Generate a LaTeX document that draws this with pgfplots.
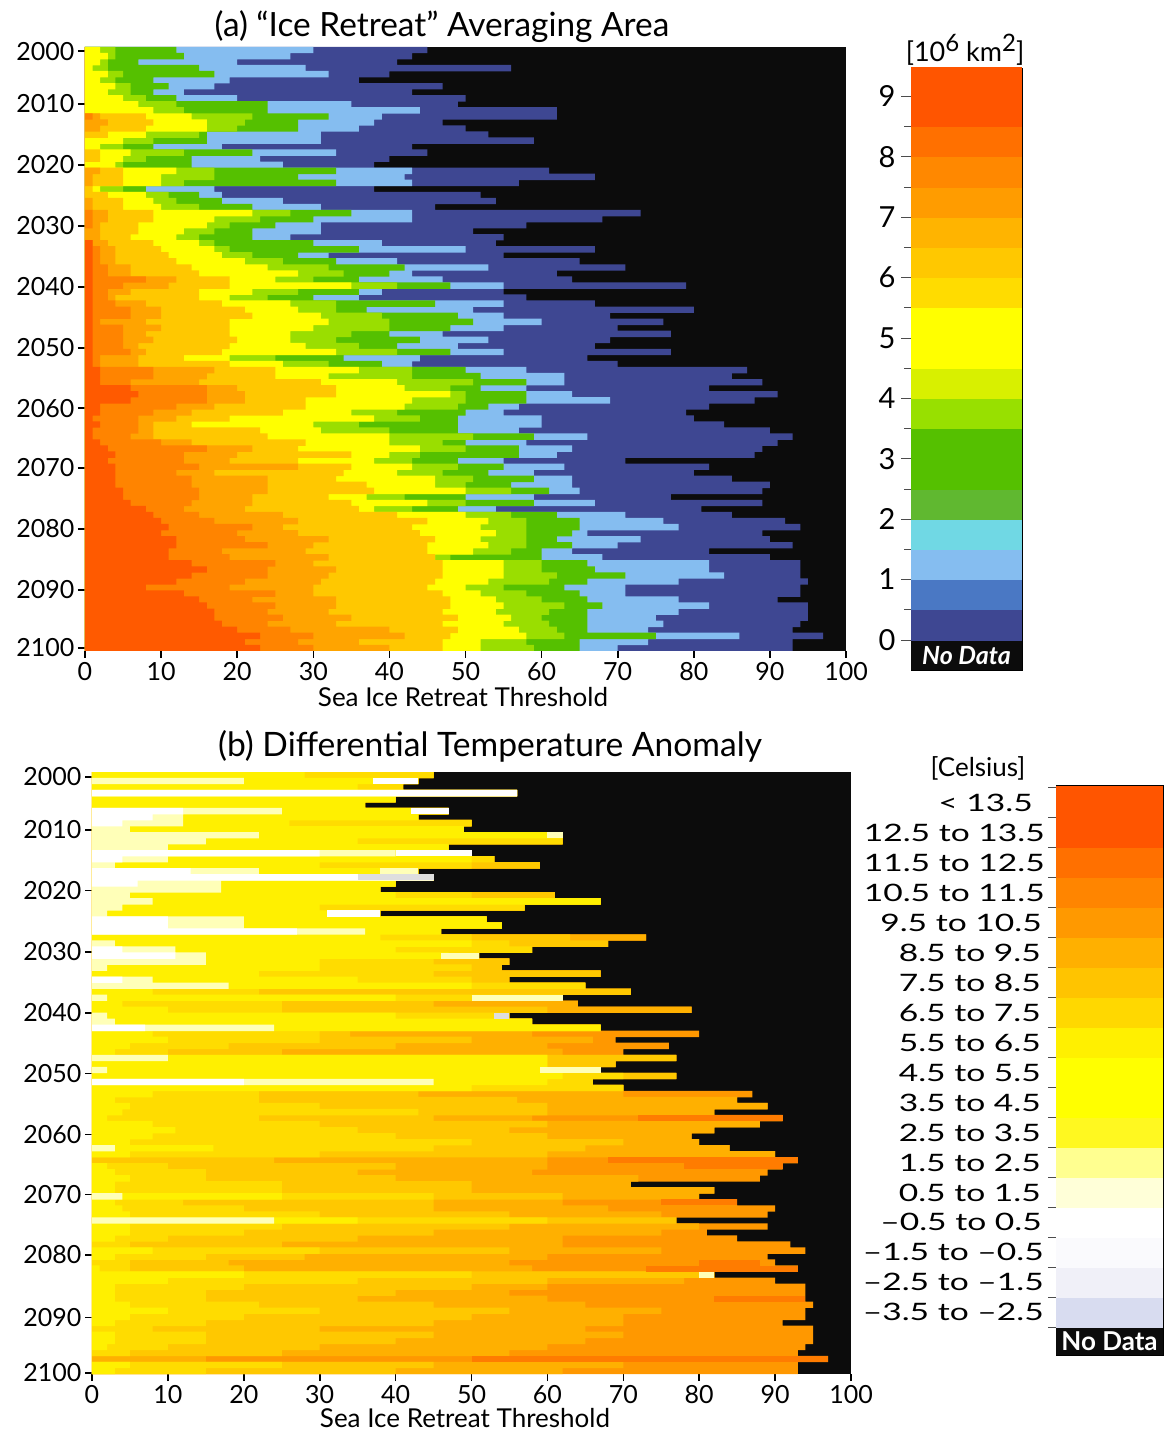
\documentclass[border=0pt]{standalone}
\usepackage{fontspec}
\usepackage{graphicx}
\usepackage{pgfplots}
\usepackage{pgfplotstable}
\pgfplotsset{compat=1.18}
\setmainfont{Lato}
\newcommand\fs[1]{\fontsize{#1}{#1}\selectfont}
% panel (a) colours
\definecolor{cr}{HTML}{FF5A00}\definecolor{co}{HTML}{FF8400}\definecolor{ca}{HTML}{FFA400}
\definecolor{cau}{HTML}{FFC800}\definecolor{cy}{HTML}{FFFF00}\definecolor{cyg}{HTML}{9ADE00}
\definecolor{cg}{HTML}{55C000}\definecolor{clb}{HTML}{85BDF0}\definecolor{cdb}{HTML}{3E4792}
\definecolor{nodata}{HTML}{0C0C0C}
% panel (b) colours
\definecolor{bD}{HTML}{FF7C00}\definecolor{bR}{HTML}{FF9800}\definecolor{bO}{HTML}{FFB000}\definecolor{bA}{HTML}{FFC800}
\definecolor{bG}{HTML}{FFDC00}\definecolor{bY}{HTML}{FFF000}\definecolor{bP}{HTML}{FFFFB8}
% colour-bar colours
\newcommand\dc[1]{\definecolor{h#1}{HTML}{#1}}
\dc{0C0C0C}\dc{3E4792}\dc{4A78C4}\dc{85BDF0}\dc{70D8E4}\dc{60B830}\dc{55C000}\dc{98E000}\dc{D8F000}\dc{FFFF00}
\dc{FFDC00}\dc{FFC800}\dc{FFB400}\dc{FF9C00}\dc{FF8800}\dc{FF7000}\dc{FF5500}\dc{D8DCF0}\dc{F0F0F8}\dc{FAFAFD}
\dc{FFFFFF}\dc{FFFFD8}\dc{FFFF90}\dc{FFF820}\dc{FFF000}\dc{FFD800}\dc{FFC400}\dc{FFB000}\dc{FF9900}\dc{FF8500}
\pgfplotstableread{
year r o a au y yg g lb E
2001 0 0 0 0 2 4 12 30 45
2002 0 0 0 0 3 4 13 27 43
2003 0 0 0 0 2 3 7 20 41
2004 0 0 0 0 1 3 15 29 56
2005 0 0 0 0 3 5 17 32 40
2006 0 0 0 0 2 4 9 19 36
2007 0 0 0 0 4 6 11 17 47
2008 0 0 0 0 3 6 9 13 43
2009 0 0 0 0 5 8 12 20 50
2010 0 0 0 0 7 12 24 35 49
2011 0 0 0 0 9 13 24 44 62
2012 0 1 2 8 14 22 32 39 62
2013 0 0 3 9 16 21 28 38 47
2014 0 0 2 8 16 20 28 36 50
2015 0 0 0 3 8 15 16 31 53
2016 0 0 0 0 5 9 16 31 59
2017 0 0 0 0 2 5 9 18 43
2018 0 0 0 2 6 13 22 33 45
2019 0 0 0 2 5 8 14 23 40
2020 0 0 0 0 4 5 14 26 38
2021 0 0 2 5 12 17 33 43 61
2022 0 0 1 5 10 17 28 42 67
2023 0 0 1 5 10 13 33 43 57
2024 0 0 0 1 2 5 8 17 38
2025 0 0 0 3 8 11 15 18 52
2026 0 0 1 5 9 12 18 26 54
2027 0 0 1 5 10 15 22 31 46
2028 0 1 3 9 22 27 35 43 73
2029 0 1 3 9 17 23 30 43 68
2030 0 1 2 7 16 19 25 31 58
2031 0 0 2 7 13 17 22 31 51
2032 0 0 2 6 12 15 22 27 55
2033 1 1 3 9 15 17 30 39 54
2034 1 2 4 10 17 19 36 50 67
2035 1 2 4 11 18 22 28 32 55
2036 1 2 4 12 21 26 33 41 65
2037 1 3 6 14 24 32 42 53 71
2038 1 3 6 15 28 34 40 43 62
2039 1 8 12 19 25 30 36 47 64
2040 1 5 11 19 35 41 48 55 79
2041 1 3 6 15 22 28 36 39 55
2042 1 3 4 15 19 24 30 36 58
2043 1 4 8 18 27 33 46 55 67
2044 1 6 10 21 28 33 37 51 80
2045 1 6 10 22 31 39 49 55 69
2046 1 2 8 19 32 40 51 60 76
2047 1 5 10 19 30 40 48 55 70
2048 1 5 8 19 27 35 40 47 77
2049 1 5 9 20 27 33 44 53 69
2050 1 5 7 19 29 36 41 49 67
2051 1 6 8 18 33 41 48 55 77
2052 1 2 7 13 19 25 34 44 66
2053 1 2 7 19 26 32 39 43 70
2054 2 9 17 25 36 43 50 58 87
2055 2 9 16 25 32 43 52 63 85
2056 2 6 15 31 41 51 58 63 89
2057 6 16 20 33 42 48 52 58 82
2058 7 16 21 33 48 50 58 64 91
2059 6 16 21 29 43 50 58 69 88
2060 2 12 17 29 42 49 53 57 82
2061 2 9 14 26 35 41 50 55 79
2062 1 7 12 19 38 44 49 60 80
2063 2 7 9 14 30 36 49 60 84
2064 1 7 9 23 31 40 49 57 90
2065 1 6 9 24 40 51 59 66 93
2066 2 10 14 29 40 47 50 58 91
2067 3 16 22 28 44 50 57 64 89
2068 4 13 20 35 40 44 57 62 88
2069 3 13 19 28 38 43 49 55 71
2070 4 15 28 35 43 49 55 63 82
2071 4 12 17 34 41 47 53 59 80
2072 4 14 24 33 46 51 59 64 85
2073 4 14 24 37 46 50 56 64 90
2074 5 15 24 38 50 56 61 65 89
2075 5 15 22 32 37 42 50 59 77
2076 6 14 22 35 45 50 59 67 89
2077 8 13 21 36 38 43 49 54 81
2078 9 15 26 41 50 56 62 71 85
2079 10 17 28 45 53 58 65 76 92
2080 11 22 26 43 52 58 65 78 94
2081 10 20 28 44 54 58 64 66 89
2082 12 21 32 46 52 58 62 73 90
2083 12 24 30 45 53 58 64 70 93
2084 11 18 29 45 51 56 60 64 82
2085 11 19 32 46 46 48 60 68 90
2086 14 25 30 47 55 60 66 82 94
2087 16 24 33 47 55 60 67 82 94
2088 14 24 32 47 55 62 71 84 94
2089 12 21 31 46 53 61 66 78 95
2090 8 19 30 45 50 55 63 71 94
2091 13 25 30 47 52 58 65 71 94
2092 15 22 33 48 54 60 66 78 91
2093 16 25 33 48 55 63 68 82 95
2094 17 24 32 47 54 61 66 78 95
2095 17 26 35 49 56 60 66 75 95
2096 18 24 33 47 55 61 66 76 94
2097 20 27 40 49 57 62 66 74 93
2098 23 30 42 48 58 63 75 86 97
2099 21 28 36 47 52 58 65 74 93
2100 23 30 40 47 52 59 65 70 93
}\tblA
\pgfplotstableread{
year w p y g a o E
2001 0 0 28 45 45 45 45
2002 0 20 43 43 43 43 43
2003 0 0 35 41 41 41 41
2004 56 56 56 56 56 56 56
2005 0 0 40 40 40 40 40
2006 0 0 36 36 36 36 36
2007 12 25 47 47 47 47 47
2008 8 12 43 43 43 43 43
2009 4 12 26 50 50 50 50
2010 0 5 49 49 49 49 49
2011 0 22 62 62 62 62 62
2012 0 15 35 62 62 62 62
2013 0 10 47 47 47 47 47
2014 30 40 40 50 50 50 50
2015 4 10 50 53 53 53 53
2016 0 3 30 50 59 59 59
2017 13 22 43 43 43 43 43
2018 45 45 45 45 45 45 45
2019 6 17 40 40 40 40 40
2020 0 17 38 38 38 38 38
2021 0 5 40 50 61 61 61
2022 0 8 67 67 67 67 67
2023 0 4 30 57 57 57 57
2024 0 2 38 38 38 38 38
2025 10 20 52 52 52 52 52
2026 10 20 54 54 54 54 54
2027 27 36 46 46 46 46 46
2028 0 0 38 50 63 73 73
2029 0 3 50 55 68 68 68
2030 4 11 40 58 58 58 58
2031 11 15 47 51 51 51 51
2032 0 15 30 45 55 55 55
2033 0 2 30 50 54 54 54
2034 0 0 22 45 67 67 67
2035 4 8 35 50 55 55 55
2036 0 18 50 65 65 65 65
2037 0 0 8 22 71 71 71
2038 0 2 40 62 62 62 62
2039 0 0 4 25 45 64 64
2040 0 0 10 25 60 79 79
2041 0 2 40 55 55 55 55
2042 0 3 58 58 58 58 58
2043 7 24 67 67 67 67 67
2044 0 0 8 30 34 58 80
2045 0 0 10 30 50 66 69
2046 0 0 5 18 40 60 76
2047 0 0 3 10 25 62 70
2048 0 10 60 60 77 77 77
2049 0 0 60 60 69 69 69
2050 0 2 60 67 67 67 67
2051 0 0 62 70 77 77 77
2052 20 45 60 66 66 66 66
2053 0 0 50 70 70 70 70
2054 0 0 8 22 43 70 87
2055 0 0 3 22 56 85 85
2056 0 0 5 30 60 89 89
2057 0 0 4 43 60 82 82
2058 0 0 2 22 45 58 91
2059 0 0 8 30 60 88 88
2060 0 0 11 35 55 82 82
2061 0 0 8 40 60 79 79
2062 0 0 5 50 70 80 80
2063 0 3 16 45 65 84 84
2064 0 0 5 30 60 90 90
2065 0 0 0 0 24 60 93
2066 0 0 2 10 40 60 91
2067 0 0 3 15 35 58 89
2068 0 0 5 15 40 72 88
2069 0 0 3 25 50 71 71
2070 0 0 3 25 50 82 82
2071 0 4 25 45 62 80 80
2072 0 0 3 12 45 62 85
2073 0 0 4 20 45 68 90
2074 0 0 5 30 55 75 89
2075 0 24 35 60 77 77 77
2076 0 0 5 25 55 80 89
2077 0 0 5 20 45 75 81
2078 0 0 3 10 35 62 85
2079 0 0 0 5 25 62 92
2080 0 0 8 30 55 75 94
2081 0 0 3 15 28 60 89
2082 0 0 0 5 18 55 90
2083 0 0 1 5 20 58 93
2084 0 0 20 50 82 82 82
2085 0 0 10 35 60 78 90
2086 0 0 3 20 50 60 94
2087 0 0 3 15 40 55 94
2088 0 0 3 15 35 60 94
2089 0 0 5 22 45 65 95
2090 0 0 10 30 55 75 94
2091 0 0 5 20 50 70 94
2092 0 0 3 15 45 70 91
2093 0 0 0 8 30 65 95
2094 0 0 3 15 45 70 95
2095 0 0 3 15 40 65 95
2096 0 0 2 10 30 60 94
2097 0 0 0 5 25 55 93
2098 0 0 0 0 0 15 97
2099 0 0 5 25 45 70 93
2100 0 0 3 15 40 62 93
}\tblB
\newcommand\layer[3]{\addplot[xbar,bar shift=0pt,bar width=1.06,draw=none,fill=#1] table[x=#2,y=year]{#3};}
\newcommand\cb[3]{\addplot[xbar,bar shift=0pt,bar width=#3,draw=none,fill=h#1] coordinates {(1,#2)};}
\pgfplotsset{
 heat/.style={scale only axis,xmin=0,xmax=100,ymin=2000.5,ymax=2100.5,y dir=reverse,
  axis background/.style={fill=nodata},axis line style={draw=none},
  xtick={0,10,...,100},xticklabels={0,10,20,30,40,50,60,70,80,90,100},
  xtick pos=bottom,ytick pos=left,tick align=outside,
  major tick length=7pt,tick style={black,line width=1.6pt},
  xticklabel style={font=\fs{25},inner ysep=1pt,yshift=-3pt},yticklabel style={font=\fs{25}},
  yticklabels={2000,2010,2020,2030,2040,2050,2060,2070,2080,2090,2100}},
 cbar/.style={scale only axis,xmin=0,xmax=1,xtick=\empty,axis line style={black,line width=0.8pt},
  ytick pos=left,tick align=outside,tick style={black!70,line width=0.8pt}},
}
\begin{document}
\begin{tikzpicture}[x=1pt,y=1pt]
\useasboundingbox (0,0) rectangle (1165,1429);
% ---------- panel (a)
\begin{axis}[heat,at={(85pt,778pt)},anchor=south west,width=761pt,height=604pt,
  ytick={2001.2,2009.9,2020,2030.1,2040.2,2050.3,2060.3,2070.2,2080.3,2090.4,2100}]
\layer{cdb}{E}{\tblA}
\layer{clb}{lb}{\tblA}
\layer{cg}{g}{\tblA}
\layer{cyg}{yg}{\tblA}
\layer{cy}{y}{\tblA}
\layer{cau}{au}{\tblA}
\layer{ca}{a}{\tblA}
\layer{co}{o}{\tblA}
\layer{cr}{r}{\tblA}
\end{axis}
% ---------- panel (b)
\begin{axis}[heat,at={(92pt,55pt)},anchor=south west,width=759pt,height=602pt,
  ytick={2001.3,2010.1,2020.2,2030.4,2040.5,2050.6,2060.7,2070.7,2080.7,2091.1,2100.3},unbounded coords=jump]
\layer{bR}{E}{\tblB}
\layer{bO}{o}{\tblB}
\layer{bA}{a}{\tblB}
\layer{bG}{g}{\tblB}
\layer{bY}{y}{\tblB}
\layer{bP}{p}{\tblB}
\layer{white}{w}{\tblB}
\addplot[white,line width=6.1pt,line cap=butt] coordinates {(37,2002)(43,2002)(nan,nan)(42,2007)(47,2007)(nan,nan)(40,2014)(50,2014)(nan,nan)(31,2024)(38,2024)};
\addplot[bP,line width=6.1pt,line cap=butt] coordinates {(38,2017)(43,2017)(nan,nan)(60,2011)(62,2011)(nan,nan)(46,2031)(51,2031)(nan,nan)(50,2038)(62,2038)(nan,nan)(59,2050)(67,2050)(nan,nan)(80,2084)(82,2084)};
\addplot[black!13,line width=6.1pt,line cap=butt] coordinates {(53,2041)(55,2041)(nan,nan)(35,2018)(45,2018)};
\addplot[bD,line width=6.1pt,line cap=butt] coordinates {(68,2065)(93,2065)(nan,nan)(50,2098)(97,2098)(nan,nan)(73,2083)(93,2083)(nan,nan)(75,2072)(85,2072)(nan,nan)(72,2058)(91,2058)(nan,nan)(80,2082)(88,2082)(nan,nan)(82,2088)(94,2088)(nan,nan)(78,2066)(91,2066)};
\end{axis}
% ---------- colour bar (a)
\begin{axis}[cbar,at={(911pt,759pt)},anchor=south west,width=111pt,height=602pt,
  ymin=-0.497,ymax=9.47,ytick={0,...,9},minor ytick={0.5,1.5,...,8.5},
  minor tick length=7pt,major tick length=10pt,
  yticklabel style={font=\fs{29},xshift=-2pt},yticklabels={0,1,2,3,4,5,6,7,8,9}]
\cb{0C0C0C}{-0.25}{0.52}
\cb{3E4792}{0.25}{0.52}
\cb{4A78C4}{0.75}{0.52}
\cb{85BDF0}{1.25}{0.52}
\cb{70D8E4}{1.75}{0.52}
\cb{60B830}{2.25}{0.52}
\cb{55C000}{3}{1.02}
\cb{98E000}{3.75}{0.52}
\cb{D8F000}{4.25}{0.52}
\cb{FFFF00}{5}{1.02}
\cb{FFDC00}{5.75}{0.52}
\cb{FFC800}{6.25}{0.52}
\cb{FFB400}{6.75}{0.52}
\cb{FF9C00}{7.25}{0.52}
\cb{FF8800}{7.75}{0.52}
\cb{FF7000}{8.25}{0.52}
\cb{FF5500}{9}{1}
\node[white,font=\fs{25}\bfseries\itshape] at (axis cs:0.5,-0.25) {No Data};
\end{axis}
% ---------- colour bar (b)
\begin{axis}[cbar,at={(1056pt,74pt)},anchor=south west,width=107pt,height=570pt,
  ymin=-0.93,ymax=18.07,ytick={0,...,18},yticklabels={},major tick length=8pt]
\cb{0C0C0C}{-0.465}{0.95}
\cb{D8DCF0}{0.5}{1.03}
\cb{F0F0F8}{1.5}{1.03}
\cb{FAFAFD}{2.5}{1.03}
\cb{FFFFFF}{3.5}{1.03}
\cb{FFFFD8}{4.5}{1.03}
\cb{FFFF90}{5.5}{1.03}
\cb{FFF820}{6.5}{1.03}
\cb{FFFF00}{8}{2.03}
\cb{FFF000}{9.5}{1.03}
\cb{FFD800}{10.5}{1.03}
\cb{FFC400}{11.5}{1.03}
\cb{FFB000}{12.5}{1.03}
\cb{FF9900}{13.5}{1.03}
\cb{FF8500}{14.5}{1.03}
\cb{FF7000}{15.5}{1.03}
\cb{FF5500}{17}{2.07}
\node[white,font=\fs{26}\bfseries] at (axis cs:0.5,-0.465) {No Data};
\end{axis}
% ---------- texts
\node[font=\fs{33.4}] at (442,1402) {(a) “Ice Retreat” Averaging Area};
\node[font=\fs{26},inner sep=0pt] at (463,732) {Sea Ice Retreat Threshold};
\node[font=\fs{33.6}] at (490,683) {(b) Differential Temperature Anomaly};
\node[font=\fs{26},inner sep=0pt] at (465,10.5) {Sea Ice Retreat Threshold};
\node[font=\fs{27}] at (965,1379) {[10\raisebox{10pt}{\fs{24}6} km\raisebox{10pt}{\fs{24}2}]};
\node[font=\fs{26}] at (978,661) {[Celsius]};
\newcommand\cl[3]{\node[anchor=east,font=\fs{24},inner sep=0pt] at (#1,{1429-#2}) {\scalebox{1.4}[1]{#3}};}
\cl{1033}{803}{< 13.5}
\cl{1045}{833}{12.5 to 13.5}
\cl{1045}{863}{11.5 to 12.5}
\cl{1045}{893}{10.5 to 11.5}
\cl{1042}{923}{9.5 to 10.5}
\cl{1041}{953}{8.5 to 9.5}
\cl{1041}{983}{7.5 to 8.5}
\cl{1041}{1013}{6.5 to 7.5}
\cl{1041}{1043}{5.5 to 6.5}
\cl{1041}{1073}{4.5 to 5.5}
\cl{1041}{1103}{3.5 to 4.5}
\cl{1041}{1133}{2.5 to 3.5}
\cl{1041}{1163}{1.5 to 2.5}
\cl{1041}{1193}{0.5 to 1.5}
\cl{1042}{1222}{–0.5 to 0.5}
\cl{1044}{1252}{–1.5 to –0.5}
\cl{1044}{1282}{–2.5 to –1.5}
\cl{1044}{1312}{–3.5 to –2.5}
\end{tikzpicture}
\end{document}
